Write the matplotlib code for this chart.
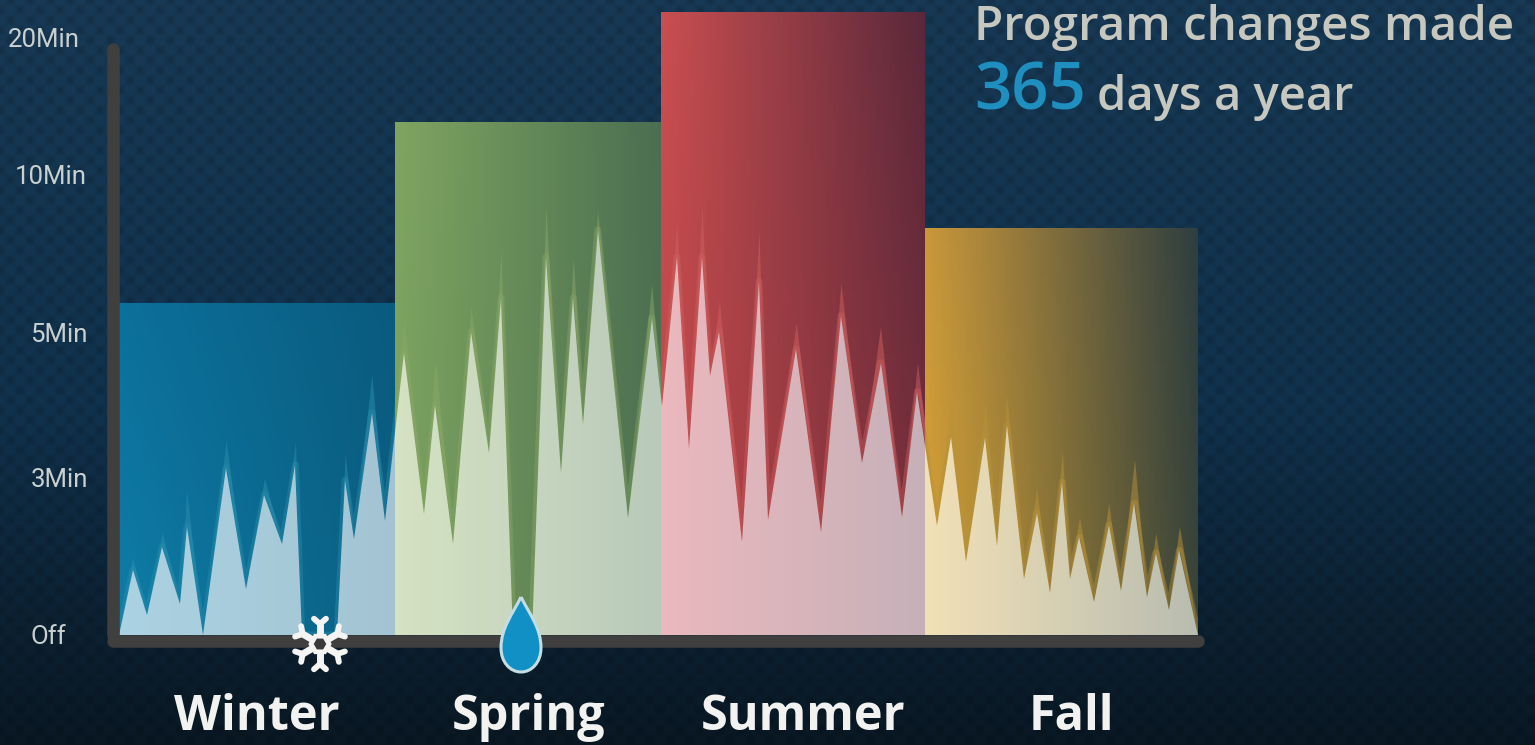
import numpy as np
import matplotlib
matplotlib.use('Agg')
import matplotlib.pyplot as plt
from matplotlib.colors import to_rgb
from matplotlib.lines import Line2D
from matplotlib.patches import PathPatch, Polygon, Rectangle
from matplotlib.path import Path
from matplotlib.transforms import Affine2D

# run time per day of year, minutes
days = [0, 4.6, 9.4, 14.6, 20.6, 22.9, 28.5, 36.2, 42.9, 49.2, 55.2, 59.7, 61.8, 73.8, 76.5, 79.5, 85.5, 90.0,
        96.4, 103.3, 107.0, 113.1, 119.1, 125.2, 129.2, 133.4, 139.6, 144.4, 149.4, 153.7, 156.9, 161.9, 172.1, 180.2, 183.7,
        188.7, 192.8, 197.2, 199.9, 203.1, 210.9, 216.5, 219.4, 229.1, 237.6, 244.2, 251.3, 257.6, 264.8, 270.1, 276.6,
        281.5, 286.5, 293.0, 296.9, 300.3, 306.2, 310.4, 314.9, 319.1, 321.6, 324.9, 329.9, 334.8, 338.8, 343.5, 347.8, 350.7, 355.1, 358.7, 365]
minutes = [0, 1.24, 0.38, 1.69, 0.59, 2.07, 0, 3.14, 0.88, 2.68, 1.74, 3.18, 0, 0, 2.96, 1.83, 3.90, 2.17,
           4.72, 2.31, 4.01, 1.74, 5.03, 3.34, 6.11, 0, 0, 7.41, 3.07, 6.11, 3.74, 8.26, 2.24, 5.47, 3.99,
           7.41, 3.40, 7.41, 4.41, 5.03, 1.78, 6.63, 2.20, 4.78, 1.97, 5.54, 3.21, 4.59, 2.25, 4.19, 2.08,
           3.57, 1.40, 3.55, 1.70, 3.73, 1.07, 2.33, 0.80, 2.92, 1.07, 1.87, 0.63, 2.10, 0.84, 2.52, 0.73, 1.57, 0.48, 1.62, 0]
# the darker spikes that stick out above the light area
minutes_outline = [0, 1.49, 0.38, 1.97, 0.59, 2.77, 0, 3.52, 0.88, 3.00, 1.74, 3.50, 0, 0, 3.34, 1.83, 4.43, 2.17,
                   5.47, 2.31, 4.65, 1.74, 5.82, 3.34, 7.59, 0, 0, 8.99, 3.07, 7.37, 3.74, 8.86, 2.24, 6.52, 3.99,
                   8.51, 3.40, 9.02, 4.41, 6.04, 1.78, 8.26, 2.20, 5.32, 1.97, 6.58, 3.21, 5.20, 2.25, 4.59, 2.08,
                   4.01, 1.40, 4.03, 1.70, 4.13, 1.07, 2.81, 0.80, 3.37, 1.07, 2.25, 0.63, 2.52, 0.84, 3.26, 0.73, 1.95, 0.48, 2.08, 0]

seasons = ['Winter', 'Spring', 'Summer', 'Fall']
season_start = [0, 93.4, 183.4, 272.7]
season_end = [93.4, 183.4, 272.7, 365]
season_top = [5.95, 13.87, 21.9, 8.32]
season_label_day = [46.7, 138.4, 231.4, 322.0]

y_ticks = [0, 3, 5, 10, 20]
y_labels = ['Off', '3Min', '5Min', '10Min', '20Min']
y_label_shift = [-22, 0, 0, -1, -8]

# colours: top left, top right, bottom left, bottom right
bar_colors = [('#0b709a', '#0a5a7e', '#0e7ca6', '#0a5f82'),
              ('#7fa460', '#4a6e50', '#78a05e', '#4f7050'),
              ('#c84e50', '#5a283a', '#bd4547', '#7a2f3a'),
              ('#c9973a', '#2e3e3f', '#d3a033', '#3a4438')]
light_colors = [('#abd2e2', '#a3c3d2'), ('#d4e2c2', '#b9c9ba'), ('#eab8bd', '#c6b0b8'), ('#f1e0b6', '#b8bcb0')]
strip_colors = ['#2a8fae', '#8aa868', '#cf6060', '#b8923a']

# y axis of the picture is not linear, so map minutes to a height
scale_min = [0, 3, 5, 10, 20, 30]
scale_pos = [0, 157, 302, 460, 597, 734]


def to_pos(v):
    return np.interp(v, scale_min, scale_pos)


def to_min(p):
    return np.interp(p, scale_pos, scale_min)


def gradient_mesh(ax, x0, x1, y0, y1, corners, zorder):
    tl, tr, bl, br = [np.array(to_rgb(c)) for c in corners]
    nx, ny = 80, 60
    xs = np.linspace(x0, x1, nx + 1)
    ys = to_min(np.linspace(to_pos(y0), to_pos(y1), ny + 1))
    u = np.linspace(0, 1, nx)[None, :, None]
    v = np.linspace(0, 1, ny)[:, None, None]
    rgb = (1 - v) * ((1 - u) * bl + u * br) + v * ((1 - u) * tl + u * tr)
    return ax.pcolormesh(xs, ys, rgb, shading='flat', zorder=zorder, antialiased=False, rasterized=True)


W, H = 1535, 745
fig = plt.figure(figsize=(W / 100, H / 100), dpi=100)
px = Affine2D().scale(1, -1).translate(0, H)

# background
bg_ax = fig.add_axes([0, 0, 1, 1], zorder=-1)
yy, xx = np.mgrid[0:H, 0:W]
t = (yy / H)[..., None]
top, mid, bot = np.array([0x17, 0x37, 0x52]), np.array([0x10, 0x30, 0x4a]), np.array([0x09, 0x17, 0x22])
base = np.where(t < 0.55, top + (mid - top) * (t / 0.55), mid + (bot - mid) * ((t - 0.55) / 0.45))
dots = np.cos(2 * np.pi * xx / 20) * np.cos(2 * np.pi * yy / 20)
base = base * (1 + 0.13 * np.minimum(dots, 0.3)[..., None])
bg_ax.imshow(np.clip(base, 0, 255).astype(np.uint8), aspect='auto')
bg_ax.axis('off')

# main axes, baseline at 635 px
ax = fig.add_axes([119 / W, (H - 635) / H, 1079 / W, 635 / H])
ax.patch.set_alpha(0)
ax.set_yscale('function', functions=(to_pos, to_min))
ax.set_xlim(0, 365)
ax.set_ylim(0, 22.77)

outline = list(zip(days, minutes))
for i, name in enumerate(seasons):
    x0, x1 = season_start[i], season_end[i]
    gradient_mesh(ax, x0, x1, 0, season_top[i], bar_colors[i], 1)

    box = Rectangle((x0, 0), x1 - x0, season_top[i], transform=ax.transData)
    strip = ax.fill_between(days, minutes, minutes_outline, color=strip_colors[i], alpha=0.5, lw=0, zorder=2)
    strip.set_clip_path(box)
    # soft edge that follows the light area
    edge = ax.plot(days, minutes, color=strip_colors[i], alpha=0.4, lw=5, zorder=2, solid_joinstyle='round')[0]
    edge.set_clip_path(box)

    c0, c1 = light_colors[i]
    light = gradient_mesh(ax, x0, x1, 0, 10, (c0, c1, c0, c1), 3)
    light.set_clip_path(Polygon(outline, closed=True, transform=ax.transData))

# axis lines
for s in ['top', 'right']:
    ax.spines[s].set_visible(False)
for s in ['left', 'bottom']:
    ax.spines[s].set_color('#3f3f3f')
    ax.spines[s].set_linewidth(9)
    ax.spines[s].set_capstyle('round')
    ax.spines[s].set_position(('outward', 4.4))
    ax.spines[s].set_zorder(4)
ax.spines['left'].set_bounds(0, 19.2)
ax.spines['bottom'].set_bounds(-2, 365)

ax.set_yticks(y_ticks, y_labels, family='Roboto', fontsize=18.5, color='#c9d0d0')
ax.tick_params(axis='y', length=0, pad=18)
for lab, dx in zip(ax.get_yticklabels(), y_label_shift):
    lab.set_transform(lab.get_transform() + Affine2D().translate(dx, 0))
ax.set_xticks(season_label_day, seasons, family='Open Sans', fontweight='bold', fontsize=35, color='#f2f2f0')
ax.tick_params(axis='x', length=0, pad=37.5)

# header text
grey = '#c6c7bf'
fig.text(974 / W, 1 - 40 / H, 'Program changes made', family='Open Sans', fontweight='semibold', fontsize=34.2, color=grey, va='baseline')
fig.text(974 / W, 1 - 110 / H, '365', family='Open Sans', fontweight='semibold', fontsize=47, color='#1f8fc0', va='baseline')
fig.text(1097 / W, 1 - 110 / H, 'days a year', family='Open Sans', fontweight='semibold', fontsize=33.8, color=grey, va='baseline')

# snowflake
cx, cy = 320, 644
for ang in np.radians(np.arange(30, 360, 60)):
    d = np.array([np.cos(ang), np.sin(ang)])
    p0 = np.array([cx, cy]) + 7 * d
    p1 = np.array([cx, cy]) + 20 * d
    fig.add_artist(Line2D([p0[0], p1[0]], [p0[1], p1[1]], color='#f4f4f2', lw=5, transform=px, solid_capstyle='butt'))
    for off in (-0.85, 0.85):
        e = np.array([np.cos(ang + off), np.sin(ang + off)])
        p2 = p1 + 8 * e
        fig.add_artist(Line2D([p1[0], p2[0]], [p1[1], p2[1]], color='#f4f4f2', lw=4.2, transform=px, solid_capstyle='round'))
hex_ang = np.radians(np.arange(0, 360, 60))
fig.add_artist(Polygon(np.c_[cx + 9 * np.cos(hex_ang), cy + 9 * np.sin(hex_ang)], closed=True, transform=px,
                       facecolor='#3a3a3a', edgecolor='#f4f4f2', lw=3.4))

# water drop
drop = Path([(521, 597), (530, 615), (541, 628), (541, 648), (541, 662), (532, 672), (521, 672),
             (510, 672), (501, 662), (501, 648), (501, 628), (512, 615), (521, 597)],
            [Path.MOVETO] + [Path.CURVE4] * 12)
fig.add_artist(PathPatch(drop, transform=px, facecolor='#1190c6', edgecolor='#c4dde2', lw=2.2))

plt.savefig('out.png', dpi=100)
